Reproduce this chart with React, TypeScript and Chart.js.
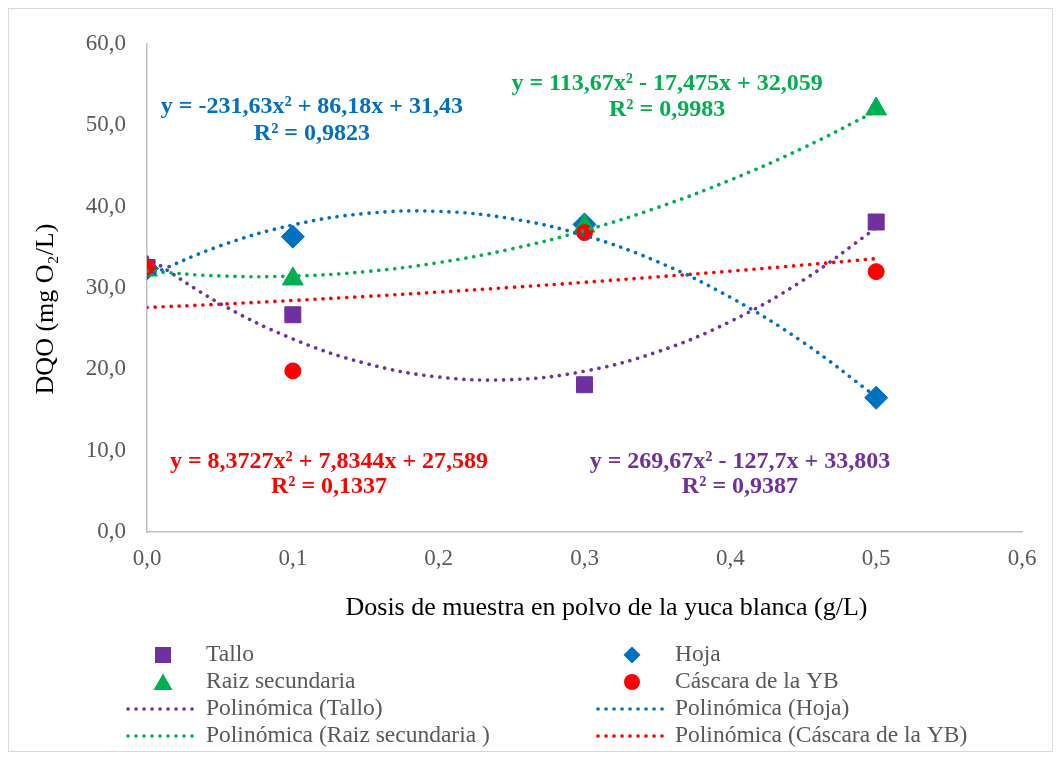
import React, { useEffect, useRef } from 'react';
import { Chart, registerables } from 'chart.js';

Chart.register(...registerables);

// ---- Data ----
const doses = [0, 0.1, 0.3, 0.5];
const tallo = [32.5, 26.7, 18.1, 38.1];
const hoja = [32.4, 36.3, 37.8, 16.5];
const raiz = [32.2, 31.1, 37.6, 52.0];
const cascara = [32.6, 19.8, 36.8, 32.0];

const trendX = [0, 0.05, 0.1, 0.15, 0.2, 0.25, 0.3, 0.35, 0.4, 0.45, 0.5];
const trendTallo = [33.8, 28.09, 23.73, 20.72, 19.05, 18.73, 19.76, 22.14, 25.87, 30.95, 37.37];
const trendHoja = [31.43, 35.16, 37.73, 39.15, 39.4, 38.5, 36.44, 33.22, 28.84, 23.31, 16.61];
const trendRaiz = [32.06, 31.47, 31.45, 32.0, 33.11, 34.79, 37.05, 39.87, 43.26, 47.21, 51.74];
const trendCascara = [27.59, 28.0, 28.46, 28.95, 29.49, 30.07, 30.69, 31.36, 32.06, 32.81, 33.6];

const seriesNames = ['Tallo', 'Hoja', 'Raiz secundaria', 'Cáscara de la YB'];
const trendNames = [
  'Polinómica (Tallo)',
  'Polinómica (Hoja)',
  'Polinómica (Raiz secundaria )',
  'Polinómica (Cáscara de la YB)',
];
const equations = [
  'y = 269,67x² - 127,7x + 33,803',
  'y = -231,63x² + 86,18x + 31,43',
  'y = 113,67x² - 17,475x + 32,059',
  'y = 8,3727x² + 7,8344x + 27,589',
];
const rSquared = ['R² = 0,9387', 'R² = 0,9823', 'R² = 0,9983', 'R² = 0,1337'];

const xTitle = 'Dosis de muestra en polvo de la yuca blanca (g/L)';
const yTitle = 'DQO (mg O₂/L)';

// ---- Styles ----
const colors = ['#7030A0', '#0070C0', '#00B050', '#FF0000'];
const shapes = ['square', 'diamond', 'triangle', 'circle'];
const pointStyles = ['rect', 'rectRot', 'triangle', 'circle'];
const pointRadii = [11.3, 11.5, 12, 8];
// label anchors in data units: [x, yEquation, yR2]
const eqAnchors = [
  [0.4066, 8.66, 5.6],
  [0.1131, 52.3, 49.0],
  [0.3566, 55.1, 51.95],
  [0.1248, 8.66, 5.6],
];

const SERIF = '"Liberation Serif", "Times New Roman", serif';
const DOT_WIDTH = 3.6;
const DOT_DASH = [0.1, 7.9];

function drawShape(ctx: CanvasRenderingContext2D, shape: string, x: number, y: number, color: string) {
  ctx.fillStyle = color;
  ctx.beginPath();
  if (shape === 'square') {
    ctx.rect(x - 8, y - 8, 16, 16);
  } else if (shape === 'diamond') {
    ctx.moveTo(x, y - 8.5);
    ctx.lineTo(x + 8.5, y);
    ctx.lineTo(x, y + 8.5);
    ctx.lineTo(x - 8.5, y);
    ctx.closePath();
  } else if (shape === 'triangle') {
    ctx.moveTo(x, y - 8.5);
    ctx.lineTo(x + 9.5, y + 8);
    ctx.lineTo(x - 9.5, y + 8);
    ctx.closePath();
  } else {
    ctx.arc(x, y, 8, 0, Math.PI * 2);
  }
  ctx.fill();
}

const overlayPlugin = {
  id: 'overlay',
  afterDraw(chart: any) {
    const ctx: CanvasRenderingContext2D = chart.ctx;
    const xs = chart.scales.x;
    const ys = chart.scales.y;
    ctx.save();

    // equations
    ctx.font = 'bold 24px ' + SERIF;
    ctx.textAlign = 'center';
    ctx.textBaseline = 'middle';
    equations.forEach((eq, i) => {
      const [ax, ay1, ay2] = eqAnchors[i];
      ctx.fillStyle = colors[i];
      ctx.fillText(eq, xs.getPixelForValue(ax), ys.getPixelForValue(ay1));
      ctx.fillText(rSquared[i], xs.getPixelForValue(ax), ys.getPixelForValue(ay2));
    });

    // axis titles
    ctx.fillStyle = '#000000';
    ctx.font = '26px ' + SERIF;
    ctx.fillText(xTitle, (chart.chartArea.left + chart.chartArea.right) / 2 + 22, 599);
    ctx.save();
    ctx.translate(37, 300);
    ctx.rotate(-Math.PI / 2);
    ctx.fillText(yTitle, 0, 0);
    ctx.restore();

    // legend
    const cols = [
      { marker: 154, l0: 119, l1: 189, text: 197 },
      { marker: 623, l0: 589, l1: 658, text: 666 },
    ];
    const rows = [646, 673, 700, 727];
    ctx.font = '23.5px ' + SERIF;
    ctx.textAlign = 'left';
    ctx.textBaseline = 'middle';
    for (let i = 0; i < 4; i++) {
      const col = cols[i % 2];
      const row = Math.floor(i / 2);
      const y = rows[row];
      drawShape(ctx, shapes[i], col.marker, y, colors[i]);
      ctx.fillStyle = '#595959';
      ctx.fillText(seriesNames[i], col.text, y);
      const y2 = rows[row + 2];
      ctx.save();
      ctx.strokeStyle = colors[i];
      ctx.lineWidth = DOT_WIDTH;
      ctx.lineCap = 'round';
      ctx.setLineDash(DOT_DASH);
      ctx.beginPath();
      ctx.moveTo(col.l0, y2);
      ctx.lineTo(col.l1, y2);
      ctx.stroke();
      ctx.restore();
      ctx.fillStyle = '#595959';
      ctx.fillText(trendNames[i], col.text, y2);
    }
    ctx.restore();
  },
};

const fmt = (v: number) => Number(v).toFixed(1).replace('.', ',');

export default function App() {
  const canvasRef = useRef<HTMLCanvasElement | null>(null);

  useEffect(() => {
    if (!canvasRef.current) return;
    const pts = (ys: number[]) => doses.map((x, i) => ({ x, y: ys[i] }));
    const tpts = (ys: number[]) => trendX.map((x, i) => ({ x, y: ys[i] }));
    const seriesValues = [tallo, hoja, raiz, cascara];
    const trendValues = [trendTallo, trendHoja, trendRaiz, trendCascara];

    const scatterSets = seriesValues.map((vals, i) => ({
      type: 'scatter' as const,
      label: seriesNames[i],
      data: pts(vals),
      showLine: false,
      pointStyle: pointStyles[i],
      pointRadius: pointRadii[i],
      pointBackgroundColor: colors[i],
      pointBorderColor: colors[i],
      pointBorderWidth: 1,
      backgroundColor: colors[i],
      borderColor: colors[i],
      order: 4 - i + 1,
    }));
    const trendSets = trendValues.map((vals, i) => ({
      type: 'line' as const,
      label: trendNames[i],
      data: tpts(vals),
      showLine: true,
      pointRadius: 0,
      borderColor: colors[i],
      borderWidth: DOT_WIDTH,
      borderCapStyle: 'round' as const,
      borderDash: DOT_DASH,
      tension: 0.4,
      fill: false,
      order: 0,
    }));

    const chart = new Chart(canvasRef.current, {
      type: 'scatter',
      data: { datasets: [...trendSets, ...scatterSets] as any },
      plugins: [overlayPlugin],
      options: {
        animation: false,
        responsive: false,
        devicePixelRatio: 1,
        layout: { padding: { left: 0, right: 30, top: 31, bottom: 159 } },
        plugins: { legend: { display: false }, tooltip: { enabled: false } },
        scales: {
          x: {
            type: 'linear',
            position: 'bottom',
            min: 0,
            max: 0.6,
            afterFit: (s: any) => {
              s.height = 60;
            },
            grid: { display: false, drawTicks: false },
            border: { display: true, color: '#bfbfbf', width: 1.5 },
            ticks: {
              stepSize: 0.1,
              padding: 13,
              color: '#595959',
              font: { family: SERIF, size: 23 },
              callback: (v: any) => fmt(v),
            },
          },
          y: {
            type: 'linear',
            min: 0,
            max: 60,
            afterFit: (s: any) => {
              s.width = 138;
            },
            grid: { display: false, drawTicks: false },
            border: { display: true, color: '#bfbfbf', width: 1.5 },
            ticks: {
              stepSize: 10,
              padding: 21,
              color: '#595959',
              font: { family: SERIF, size: 23 },
              callback: (v: any) => fmt(v),
            },
          },
        },
      } as any,
    });
    return () => chart.destroy();
  }, []);

  return (
    <div
      style={{
        width: 1043,
        height: 742,
        border: '1px solid #d9d9d9',
        background: '#ffffff',
      }}
    >
      <canvas ref={canvasRef} width={1043} height={742} style={{ display: 'block' }} />
    </div>
  );
}
